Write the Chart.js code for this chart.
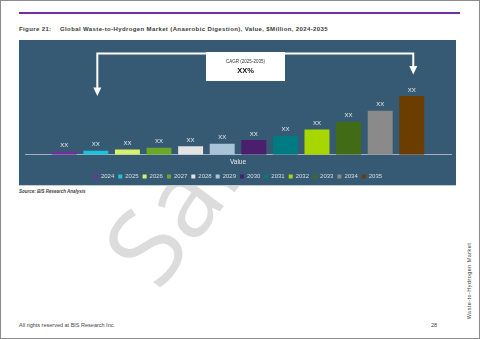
<!DOCTYPE html>
<html>
<head>
<meta charset="utf-8">
<script src="https://cdn.jsdelivr.net/npm/chart.js@4.4.1/dist/chart.umd.min.js"></script>
<style>
  html, body { margin: 0; padding: 0; }
  body { width: 480px; height: 339px; position: relative; overflow: hidden; background: #fff;
         font-family: "Liberation Sans", Arial, sans-serif; }
  .frame { position: absolute; left: 0; top: 0; width: 478px; height: 337px; border: 1px solid #8c8c8c; }
  .rule { position: absolute; left: 19px; top: 12px; width: 441px; height: 2px; background: #7030a0; }
  .title { position: absolute; top: 26px; font-size: 6px; line-height: 7px; font-weight: bold;
           color: #3a3a3a; letter-spacing: 0.38px; white-space: nowrap; }
  .wmclip { position: absolute; left: 0; top: 40px; width: 470px; height: 280px; overflow: hidden; }
  .wm { position: absolute; left: 236px; top: 82px; font-family: "Open Sans", "Noto Sans", sans-serif;
        font-size: 106px; line-height: 106px; color: #dcdcdc; white-space: nowrap;
        transform: translate(-50%, -50%) rotate(-53deg); }
  .panel { position: absolute; left: 19px; top: 40px; width: 437px; height: 145px;
           background: #365a73; border-bottom: 1px solid #c3ccd3; }
  .source { position: absolute; left: 19px; top: 189px; font-size: 4.5px; line-height: 6px;
            font-style: italic; font-weight: bold; color: #444; }
  .foot { position: absolute; top: 322px; font-size: 5.5px; line-height: 7px; color: #444; white-space: nowrap; }
  .side { position: absolute; left: 469px; top: 281px; font-size: 5.5px; line-height: 7px; color: #444;
          letter-spacing: 0.45px; white-space: nowrap; transform: translate(-50%, -50%) rotate(-90deg); }
</style>
</head>
<body>
<div class="wmclip"><div class="wm">Sample</div></div>
<div class="frame"></div>
<div class="rule"></div>
<div class="title" style="left:19px">Figure 21:</div>
<div class="title" style="left:60px">Global Waste-to-Hydrogen Market (Anaerobic Digestion), Value, $Million, 2024-2035</div>
<div class="panel"><canvas id="wthChart"></canvas></div>
<div class="source">Source: BIS Research Analysis</div>
<div class="foot" style="left:19px">All rights reserved at BIS Research Inc.</div>
<div class="foot" style="left:431px">28</div>
<div class="side">Waste-to-Hydrogen Market</div>
<script>
'use strict'
{
  const categories = ['Value'];
  const years = ['2024', '2025', '2026', '2027', '2028', '2029', '2030', '2031', '2032', '2033', '2034', '2035'];
  const values = [3.0, 4.0, 5.2, 7.0, 8.5, 11.0, 14.8, 19.0, 25.2, 33.0, 44.0, 59.0];
  const valueLabels = ['XX', 'XX', 'XX', 'XX', 'XX', 'XX', 'XX', 'XX', 'XX', 'XX', 'XX', 'XX'];
  const cagrTitle = 'CAGR (2025-2035)';
  const cagrValue = 'XX%';

  const colors = ['#7030a0', '#1ec0db', '#d6f26c', '#6aa72a', '#e3e3e3', '#a9c3d9',
                  '#4a1f6e', '#007b84', '#a8d600', '#416c15', '#8a8a8a', '#6b3d00'];

  const ctx = document.getElementById('wthChart').getContext('2d');

  const barLabels = {
    id: 'barLabels',
    afterDatasetsDraw(chart) {
      const c = chart.ctx;
      c.save();
      c.font = '6px "Liberation Sans", Arial, sans-serif';
      c.fillStyle = '#e9edf0';
      c.textAlign = 'center';
      c.textBaseline = 'middle';
      chart.data.datasets.forEach((ds, i) => {
        const bar = chart.getDatasetMeta(i).data[0];
        c.fillText(valueLabels[i], bar.x, bar.y - 6);
      });
      c.restore();
    }
  };

  // CAGR callout: bracket arrow from 2025 to 2035 with a white box
  const cagrCallout = {
    id: 'cagrCallout',
    afterDraw(chart) {
      const c = chart.ctx;
      const x1 = chart.getDatasetMeta(1).data[0].x + 1.5;
      const x2 = chart.getDatasetMeta(11).data[0].x + 1.5;
      const top = 13.5;
      c.save();
      c.strokeStyle = '#ffffff';
      c.fillStyle = '#ffffff';
      c.lineWidth = 2;
      c.beginPath();
      c.moveTo(x1, 48);
      c.lineTo(x1, top);
      c.lineTo(x2, top);
      c.lineTo(x2, 27);
      c.stroke();
      [[x1, 56], [x2, 34.5]].forEach(([x, tip]) => {
        c.beginPath();
        c.moveTo(x - 4, tip - 8.5);
        c.lineTo(x + 4, tip - 8.5);
        c.lineTo(x, tip);
        c.closePath();
        c.fill();
      });
      c.fillRect(187, 12, 79, 29);
      c.textAlign = 'center';
      c.textBaseline = 'middle';
      c.fillStyle = '#333333';
      c.font = '4.5px "Liberation Sans", Arial, sans-serif';
      c.fillText(cagrTitle, 226.5, 22);
      c.fillStyle = '#111111';
      c.font = 'bold 7.5px "Liberation Sans", Arial, sans-serif';
      c.fillText(cagrValue, 226.5, 30.5);
      c.restore();
    }
  };

  const data = {
    labels: categories,
    datasets: years.map((y, i) => ({
      label: y,
      data: [values[i]],
      backgroundColor: colors[i],
      borderWidth: 0,
    })),
  };

  const options = {
    responsive: true,
    maintainAspectRatio: false,
    animation: false,
    devicePixelRatio: 1,
    layout: {
      padding: { left: 6, right: 5, top: 15, bottom: -4.5 },
    },
    datasets: {
      bar: { categoryPercentage: 0.89, barPercentage: 0.79 },
    },
    scales: {
      x: {
        grid: { display: false, drawTicks: false },
        border: { color: '#a3b0bb', width: 1 },
        ticks: {
          color: '#e3e8ec',
          padding: 3.5,
          font: { size: 6.5, family: '"Liberation Sans", Arial, sans-serif' },
        },
      },
      y: {
        display: false,
        min: 0,
        max: 100,
      },
    },
    plugins: {
      legend: {
        position: 'bottom',
        labels: {
          color: '#d9dfe4',
          boxWidth: 4,
          boxHeight: 4,
          padding: 4,
          font: { size: 6, family: '"Liberation Sans", Arial, sans-serif' },
        },
      },
      tooltip: { enabled: false },
    },
  };

  new Chart(ctx, {
    type: 'bar',
    data: data,
    options: options,
    plugins: [barLabels, cagrCallout],
  });
}
</script>
</body>
</html>
